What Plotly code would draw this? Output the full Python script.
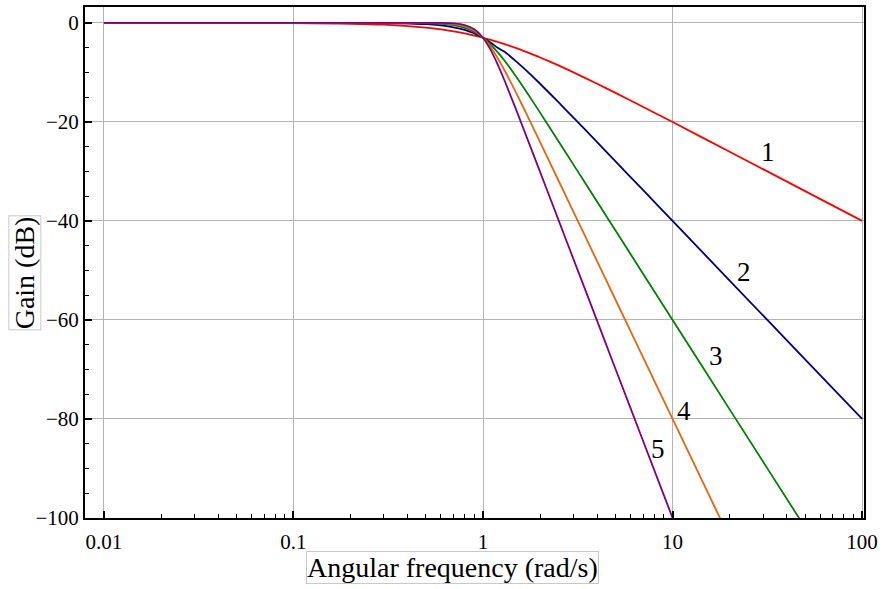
import math
import plotly.graph_objects as go

freq = [0.01, 0.1, 0.3, 0.5, 0.6, 0.7, 0.8, 0.9, 1.0, 1.1, 1.2, 1.3, 1.5, 1.7,
        2.0, 2.5, 3.0, 4.0, 5.0, 7.0, 10.0, 20.0, 50.0, 100.0]

gain_1 = [0.0, -0.04, -0.37, -0.97, -1.34, -1.74, -2.15, -2.58, -3.01, -3.42, -3.87,
          -4.30, -5.12, -5.92, -6.99, -8.60, -10.0, -12.30, -14.15, -17.0, -20.04,
          -26.03, -33.98, -40.0]
gain_2 = [0.0, 0.0, -0.035, -0.26, -0.53, -0.90, -1.41, -2.12, -3.01, -4.03, -5.10,
          -5.86, -7.83, -9.71, -12.30, -16.03, -19.14, -24.10, -27.97, -33.80, -40.0,
          -52.04, -67.96, -80.0]
gain_3 = [0.0, 0.0, -0.003, -0.067, -0.198, -0.48, -1.01, -1.85, -3.01, -4.43, -6.0,
          -7.65, -10.93, -14.0, -18.13, -23.89, -28.63, -36.12, -41.94, -50.71, -60.0,
          -78.06, -101.9, -120.0]
gain_4 = [0.0, 0.0, 0.0, -0.017, -0.072, -0.24, -0.67, -1.55, -3.01, -4.97, -7.24,
          -9.62, -14.25, -18.5, -24.1, -31.84, -38.17, -48.16, -55.92, -67.6, -80.0,
          -104.08, -135.9, -160.0]
gain_5 = [0.0, 0.0, 0.0, -0.004, -0.026, -0.12, -0.44, -1.30, -3.01, -5.56, -8.57,
          -11.70, -17.68, -23.07, -30.11, -39.79, -47.71, -60.2, -69.9, -84.5, -100.0,
          -130.1, -169.9, -200.0]

series = [gain_1, gain_2, gain_3, gain_4, gain_5]
names = ["1", "2", "3", "4", "5"]
colors = ["#ff0000", "#000080", "#008000", "#e8650f", "#800080"]

# label positions (frequency, gain)
label_x = [31.7, 23.7, 16.9, 11.5, 8.4]
label_y = [-26.0, -50.3, -67.2, -78.3, -86.1]

x_tickvals = [0.01, 0.1, 1, 10, 100]
x_ticktext = ["0.01", "0.1", "1", "10", "100"]
x_minor = [m * d for d in [0.01, 0.1, 1, 10] for m in range(2, 10)]
y_tickvals = [0, -20, -40, -60, -80, -100]
y_ticktext = ["0", "\u221220", "\u221240", "\u221260", "\u221280", "\u2212100"]

fig = go.Figure()
for g, n, c in zip(series, names, colors):
    fig.add_trace(go.Scatter(x=freq, y=g, mode="lines", name=n,
                             line=dict(color=c, width=1.8, shape="spline", smoothing=0.6),
                             showlegend=False))

for n, lx, ly in zip(names, label_x, label_y):
    fig.add_annotation(x=math.log10(lx), y=ly, xref="x", yref="y", text=n,
                       showarrow=False, xanchor="center", yanchor="middle",
                       font=dict(family="Liberation Serif", size=27, color="black"))

fig.add_annotation(x=-0.0766, y=0.4795, xref="paper", yref="paper", text="Gain (dB)",
                   textangle=-90, showarrow=False, xanchor="center", yanchor="middle",
                   font=dict(family="Liberation Serif", size=28, color="black"),
                   bordercolor="#c8c8c8", borderwidth=1, borderpad=0, bgcolor="white")
fig.add_annotation(x=0.472, y=-0.0975, xref="paper", yref="paper",
                   text="Angular frequency (rad/s)", showarrow=False,
                   xanchor="center", yanchor="middle",
                   font=dict(family="Liberation Serif", size=28, color="black"),
                   bordercolor="#c8c8c8", borderwidth=1, borderpad=0, bgcolor="white")

fig.update_layout(
    width=883, height=589,
    margin=dict(l=85, r=15, t=5, b=71),
    paper_bgcolor="white", plot_bgcolor="white",
    font=dict(family="Liberation Serif", size=21, color="black"),
)
fig.update_xaxes(type="log", range=[-2.1, 2.01],
                 tickvals=x_tickvals, ticktext=x_ticktext, ticklabelstandoff=4,
                 ticks="inside", ticklen=7, tickwidth=1.5, tickcolor="black",
                 minor=dict(tickvals=x_minor, ticks="inside", ticklen=4, tickwidth=1.2,
                            tickcolor="black", showgrid=False),
                 showgrid=True, gridcolor="#b4b4b4", gridwidth=1,
                 showline=True, linecolor="black", linewidth=2, mirror=True,
                 zeroline=False)
fig.update_yaxes(range=[-100, 3.2],
                 tickvals=y_tickvals, ticktext=y_ticktext,
                 ticks="inside", ticklen=7, tickwidth=1.5, tickcolor="black",
                 minor=dict(dtick=5, ticks="inside", ticklen=4, tickwidth=1.2,
                            tickcolor="black", showgrid=False),
                 showgrid=True, gridcolor="#b4b4b4", gridwidth=1,
                 showline=True, linecolor="black", linewidth=2, mirror=True,
                 zeroline=False)

fig.write_html("out.html")
